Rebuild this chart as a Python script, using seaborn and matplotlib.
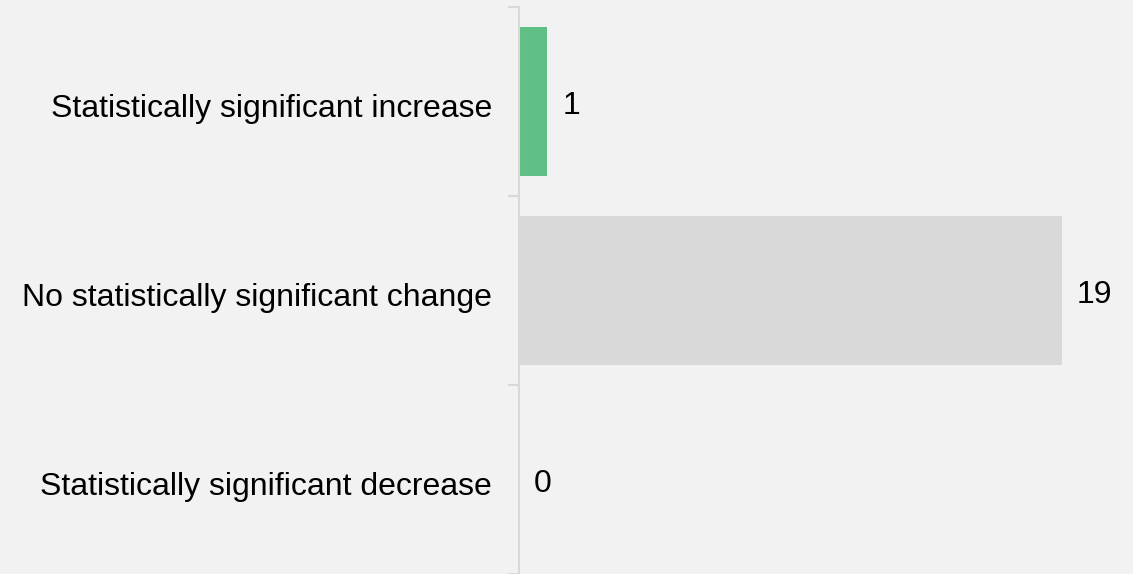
import pandas as pd
import seaborn as sns
import matplotlib.pyplot as plt
import matplotlib.transforms as mtransforms
from matplotlib.ticker import FixedLocator

# Chart data
categories = ["Statistically significant increase",
              "No statistically significant change",
              "Statistically significant decrease"]
counts = [1, 19, 0]
bar_colors = ["#5fbf85", "#d9d9d9", "#d9d9d9"]

df = pd.DataFrame({"category": categories, "count": counts})

sns.set_style("white")
plt.rcParams["font.family"] = ["Liberation Sans", "DejaVu Sans"]

fig = plt.figure(figsize=(11.33, 5.74), dpi=100, facecolor="#f2f2f2")
ax = fig.add_axes([0.458, 0.0, 0.542, 0.988])
ax.set_facecolor("#f2f2f2")

sns.barplot(data=df, y="category", x="count", hue="category",
            palette=bar_colors, saturation=1, width=0.79, orient="h",
            linewidth=0, legend=False, ax=ax)

for container in ax.containers:
    for ann in ax.bar_label(container, padding=11, fontsize=23, color="#000000"):
        ann.xyann = (11, -3.5)

ax.set_xlim(0, 21.5)
ax.set_ylim(2.5, -0.5)
ax.set_xlabel("")
ax.set_ylabel("")
ax.set_xticks([])

# separators between categories on the left axis
ax.yaxis.set_minor_locator(FixedLocator([-0.5, 0.5, 1.5, 2.5]))
ax.tick_params(axis="y", which="major", left=False, pad=16, labelsize=23, labelcolor="#000000")
ax.tick_params(axis="y", which="minor", left=True, length=8, width=1.5, color="#d9d9d9")

# nudge category labels down a little
shift = mtransforms.ScaledTranslation(0, -3 / 72, fig.dpi_scale_trans)
for lbl in ax.get_yticklabels():
    lbl.set_transform(lbl.get_transform() + shift)

for side in ["top", "right", "bottom"]:
    ax.spines[side].set_visible(False)
ax.spines["left"].set_color("#d9d9d9")
ax.spines["left"].set_linewidth(1.5)

fig.savefig("out.png", dpi=100, facecolor=fig.get_facecolor())
